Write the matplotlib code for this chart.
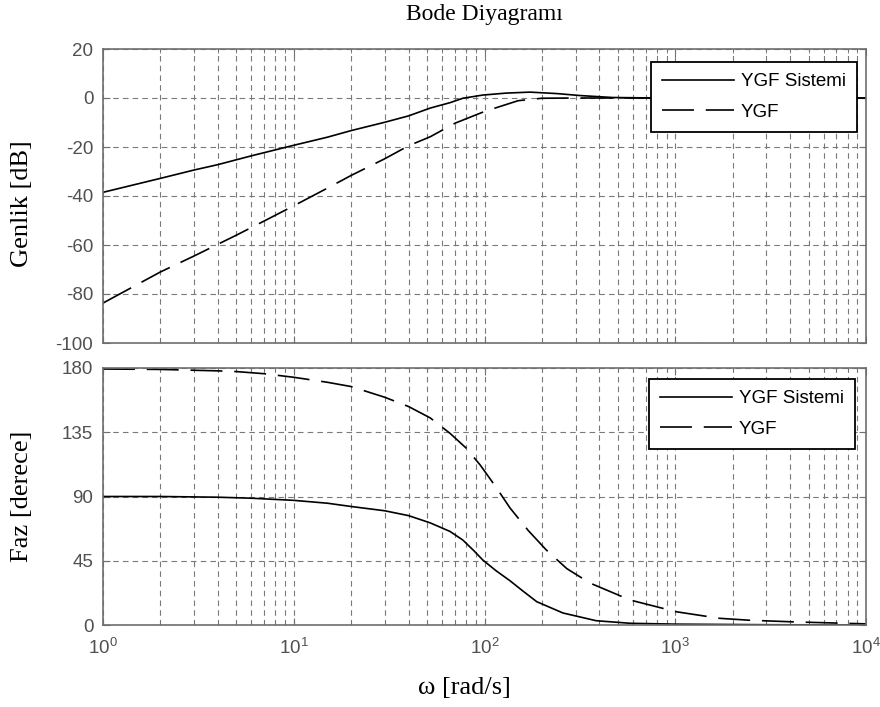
import matplotlib
matplotlib.use('Agg')
import matplotlib.pyplot as plt
from matplotlib.ticker import LogLocator, NullFormatter, NullLocator

plt.rcParams['font.family'] = ['Liberation Sans', 'DejaVu Sans']
plt.rcParams['mathtext.default'] = 'regular'
plt.rcParams['lines.scale_dashes'] = False
plt.rcParams['axes.unicode_minus'] = False

# Genlik (dB) -- YGF Sistemi
w_mag_sys = [1, 2, 3, 4, 6, 10, 15, 20, 30, 40, 52, 66, 77, 98, 130, 173, 240,
             317, 470, 700, 1000, 3000, 10000]
mag_sys = [-38.5, -32.8, -29.4, -27.2, -23.6, -19.3, -16.0, -13.3, -9.9, -7.3,
           -4.1, -1.9, -0.1, 1.2, 2.0, 2.4, 1.8, 1.0, 0.2, 0.05, 0.0, 0.0, 0.0]

# Genlik (dB) -- YGF
w_mag_ygf = [1, 2, 3, 4, 5, 7, 10, 15, 20, 30, 40, 52, 70, 100, 150, 200, 300,
             1000, 10000]
mag_ygf = [-83.7, -71.0, -64.5, -59.7, -56.0, -50.2, -44.0, -36.8, -31.6,
           -24.8, -19.5, -15.8, -10.3, -5.5, -1.1, -0.1, 0.0, 0.0, 0.0]

# Faz (derece) -- YGF Sistemi
w_ph_sys = [1, 2, 4, 6, 10, 15, 20, 30, 40, 52, 66, 77, 88, 98, 115, 136, 160,
            188, 258, 385, 580, 1000, 3000, 10000]
ph_sys = [90.0, 90.0, 89.5, 88.8, 87.3, 85.3, 83.0, 80.0, 76.6, 71.5, 65.5,
          59.5, 52.0, 45.5, 38.0, 31.0, 23.5, 16.3, 8.4, 3.0, 1.2, 0.6, 0.2, 0.0]

# Faz (derece) -- YGF
w_ph_ygf = [1, 2, 4, 5, 7, 10, 15, 20, 30, 40, 52, 66, 80, 95, 115, 136, 170,
            211, 270, 357, 580, 1010, 1700, 2470, 4370, 10000]
ph_ygf = [179.3, 179.0, 178.0, 177.5, 176.0, 173.5, 170.0, 167.0, 159.5, 153.0,
          145.0, 134.2, 124.0, 112.0, 96.5, 82.0, 66.0, 52.5, 39.5, 29.4, 17.5,
          9.3, 4.7, 3.3, 2.1, 0.8]

labels = ['YGF Sistemi', 'YGF']
mag_ticks = [-100, -80, -60, -40, -20, 0, 20]
ph_ticks = [0, 45, 90, 135, 180]

W, H = 880, 707
fig = plt.figure(figsize=(W / 100, H / 100), dpi=100)
ax1 = fig.add_axes([103 / W, 1 - 343 / H, 763 / W, 294 / H])
ax2 = fig.add_axes([103 / W, 1 - 625 / H, 763 / W, 257 / H], sharex=ax1)

dash = (23, 8.5)
ax1.plot(w_mag_sys, mag_sys, color='black', lw=1.2, label=labels[0])
ax1.plot(w_mag_ygf, mag_ygf, color='black', lw=1.2, dashes=dash, label=labels[1])
ax2.plot(w_ph_sys, ph_sys, color='black', lw=1.2, label=labels[0])
ax2.plot(w_ph_ygf, ph_ygf, color='black', lw=1.2, dashes=dash, label=labels[1])

for ax in (ax1, ax2):
    ax.set_xscale('log')
    ax.set_xlim(1, 1e4)
    ax.xaxis.set_major_locator(LogLocator(base=10, numticks=10))
    ax.xaxis.set_minor_locator(LogLocator(base=10, subs=range(2, 10), numticks=20))
    ax.xaxis.set_minor_formatter(NullFormatter())
    ax.yaxis.set_minor_locator(NullLocator())
    ax.grid(True, which='both', axis='x', color='#7a7a7a', lw=0.8, ls=(0, (4, 3)))
    ax.grid(True, which='major', axis='y', color='#7a7a7a', lw=0.8, ls=(0, (4, 3)))
    ax.tick_params(which='both', direction='in', top=True, right=True,
                   color='#707070', labelcolor='#505050', labelsize=13.5)
    ax.tick_params(which='major', length=5)
    ax.tick_params(which='minor', length=3)
    for s in ax.spines.values():
        s.set_color('#6e6e6e')
        s.set_linewidth(1.2)

ax1.set_ylim(-100, 20)
ax1.set_yticks(mag_ticks)
ax1.tick_params(axis='y', pad=7)
ax1.tick_params(axis='x', labelbottom=False)
ax2.set_ylim(0, 180)
ax2.set_yticks(ph_ticks)
ax2.tick_params(axis='y', pad=7)
ax2.tick_params(axis='x', pad=9)

leg_kw = dict(loc='upper right', fontsize=13.5, handlelength=3.85,
              handletextpad=0.35, borderpad=0.6, labelspacing=0.7,
              fancybox=False, framealpha=1, borderaxespad=0)
leg1 = ax1.legend(bbox_to_anchor=(0.988, 0.956), **leg_kw)
leg2 = ax2.legend(bbox_to_anchor=(0.9856, 0.957), **leg_kw)
for leg in (leg1, leg2):
    leg.get_frame().set_edgecolor('black')
    leg.get_frame().set_linewidth(1.3)

serif = ['Liberation Serif', 'DejaVu Serif']
fig.text(484.5 / W, 1 - 20 / H, 'Bode Diyagramı', family=serif, fontsize=17,
         ha='center', va='baseline')
fig.text(464 / W, 1 - 694 / H, 'ω [rad/s]', family=serif, fontsize=19,
         ha='center', va='baseline')
fig.text(22 / W, 1 - 204 / H, 'Genlik [dB]', family=serif, fontsize=19,
         rotation=90, ha='center', va='center')
fig.text(22 / W, 1 - 496 / H, 'Faz [derece]', family=serif, fontsize=19,
         rotation=90, ha='center', va='center')

fig.savefig('out.png', dpi=100)
